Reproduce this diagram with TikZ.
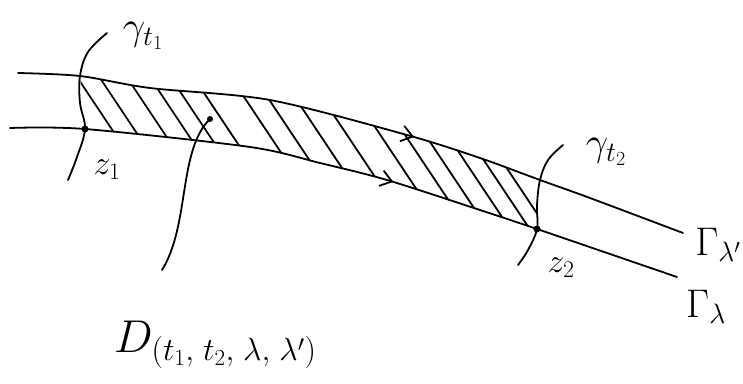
\RequirePackage{fix-cm}
\documentclass[tikz,border=0pt]{standalone}
\usetikzlibrary{decorations.markings,arrows.meta}
\begin{document}
\begin{tikzpicture}[x=1pt,y=-1pt, line cap=round, line join=round,
  curve/.style={line width=1.8pt},
  hatchln/.style={line width=1.8pt},
  lab/.style={font=\fontsize{34}{36}\selectfont, inner sep=0pt},
  biglab/.style={font=\fontsize{40}{42}\selectfont, inner sep=0pt},
  dlab/.style={font=\fontsize{46}{48}\selectfont, inner sep=0pt},
  dotnode/.style={circle,fill,inner sep=0pt,minimum size=7pt},
  midarrow/.style={postaction={decorate}, decoration={markings,
     mark=at position #1 with {\arrow{Straight Barb[length=11pt,width=16pt]}}}}]
\useasboundingbox (0,0) rectangle (743,383);

% points
\coordinate (uS) at (18,73);
\coordinate (uE) at (683,233);
\coordinate (lS) at (10,128);
\coordinate (lE) at (677,277);
\node[dotnode] (z1) at (85,129) {};
\node[dotnode] (z2) at (537,229) {};

% hatching clipped to the strip between the curves
\begin{scope}
\clip plot[smooth, tension=0.5] coordinates {(80,76) (150,88) (270,100) (407,135) (480,158) (540,180)}
  -- plot[smooth, tension=0.5] coordinates {(537,229) (480,210) (387,180) (320,163) (250,147) (85,129)} -- cycle;
\foreach \x/\y in {95/104,120/108,150/112,175/115,197/117,222/120,262/124,290/131,322/138,355/147,395/157,425/165,452/175,480/184,505/192,528/200}
  \draw[hatchln] (\x-40,\y-60) -- (\x+40,\y+60);
\end{scope}

% upper curve Gamma_lambda'
\draw[curve, midarrow=0.585] plot[smooth, tension=0.5] coordinates {(uS) (80,76) (150,88) (270,100) (407,135) (480,158) (540,180) (590,198) (uE)};
% lower curve Gamma_lambda
\draw[curve, midarrow=0.565] plot[smooth, tension=0.5] coordinates {(lS) (z1) (250,147) (320,163) (387,180) (480,210) (z2) (lE)};

% gamma curves
\draw[curve] plot[smooth, tension=0.6] coordinates {(107,33) (88,52) (80,76) (80,103) (z1) (77,157) (68,180)};
\draw[curve] plot[smooth, tension=0.6] coordinates {(563,145) (548,160) (540,180) (537,205) (z2) (528,250) (518,265)};

% pointer from the label to the region
\coordinate (pS) at (162,270);
\coordinate (pE) at (210,119);
\draw[curve] (pS) .. controls (190,225) and (178,150) .. (pE);
\fill (pE) circle (3pt);

% labels
\node[biglab] (gt1) at (143,36) {$\gamma_{t_1}$};
\node[lab] (lz1) at (107,170) {$z_1$};
\node[biglab] (gt2) at (606,152) {$\gamma_{t_2}$};
\node[lab] (lz2) at (561,268) {$z_2$};
\node[biglab, anchor=east] (Glp) at (741,245) {$\Gamma_{\lambda'}$};
\node[biglab, anchor=west] (Gl) at (686,307) {$\Gamma_{\lambda}$};
\node[dlab, anchor=west] (D) at (114,345) {$D_{(t_1,\;t_2,\;\lambda,\;\lambda')}$};
\end{tikzpicture}
\end{document}
